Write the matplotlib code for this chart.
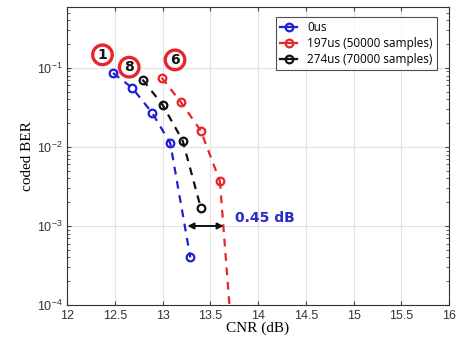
import matplotlib

matplotlib.use("Agg")
import matplotlib.pyplot as plt
from matplotlib.ticker import LogLocator, NullFormatter

# ---- data ----
blue_x = [12.48, 12.68, 12.89, 13.08, 13.29]
blue_y = [0.086, 0.056, 0.027, 0.0112, 0.0004]

red_x = [12.99, 13.19, 13.40, 13.60]
red_y = [0.075, 0.037, 0.016, 0.0037]
red_tail_x = [13.60, 13.70]
red_tail_y = [0.0037, 1e-4]

black_x = [12.79, 13.00, 13.21, 13.40]
black_y = [0.071, 0.034, 0.012, 0.0017]

labels = ["0us", "197us (50000 samples)", "274us (70000 samples)"]

circle_text = ["1", "8", "6"]
circle_x = [12.37, 12.65, 13.13]
circle_y = [0.146, 0.102, 0.126]

gap_x = [13.26, 13.64]
gap_y = 1e-3
gap_label = "0.45 dB"

xticks = [12, 12.5, 13, 13.5, 14, 14.5, 15, 15.5, 16]
xticklabels = ["12", "12.5", "13", "13.5", "14", "14.5", "15", "15.5", "16"]

BLUE = "#1f1fd6"
RED = "#e8262a"
BLACK = "#111111"

fig = plt.figure(figsize=(4.6, 3.49), dpi=100)
ax = fig.add_axes([0.146, 0.126, 0.830, 0.854])

mk = dict(marker="o", markersize=5.5, markerfacecolor="none", markeredgewidth=1.6,
          linestyle="--", linewidth=1.6, dashes=(3.5, 3))
ax.plot(blue_x, blue_y, color=BLUE, label=labels[0], **mk)
ax.plot(red_x, red_y, color=RED, label=labels[1], **mk)
ax.plot(black_x, black_y, color=BLACK, label=labels[2], **mk)
ax.plot(red_tail_x, red_tail_y, color=RED, linestyle="--", linewidth=1.6, dashes=(3.5, 3))

ax.set_yscale("log")
ax.set_xlim(12, 16)
ax.set_ylim(1e-4, 10 ** -0.23)
ax.set_xticks(xticks)
ax.set_xticklabels(xticklabels)
ax.yaxis.set_major_locator(LogLocator(base=10, numticks=10))
ax.yaxis.set_minor_locator(LogLocator(base=10, subs=range(2, 10), numticks=10))
ax.yaxis.set_minor_formatter(NullFormatter())

ax.grid(True, which="major", color="#e2e2e2", linewidth=0.8)
ax.set_axisbelow(True)
ax.tick_params(direction="in", which="both", top=True, right=True,
               labelsize=9, labelcolor="#333333", color="#444444")
ax.tick_params(which="major", length=3)
ax.tick_params(which="minor", length=2)
for t in ax.get_xticklabels() + ax.get_yticklabels():
    t.set_family("Liberation Sans")
for s in ax.spines.values():
    s.set_color("#333333")
    s.set_linewidth(0.8)

ax.set_xlabel("CNR (dB)", family="Liberation Serif", fontsize=11, labelpad=0)
ax.set_ylabel("coded BER", family="Liberation Serif", fontsize=11, labelpad=2)

leg = ax.legend(loc="upper right", bbox_to_anchor=(0.969, 0.966),
                frameon=True, fancybox=False, handlelength=1.4, handletextpad=0.9,
                borderpad=0.35, labelspacing=0.25, borderaxespad=0,
                prop={"family": "Open Sans", "size": 8.5})
leg.get_frame().set_edgecolor("#222222")
leg.get_frame().set_linewidth(0.8)
for h in leg.get_lines():
    h.set_linestyle("-")

for txt, cx, cy in zip(circle_text, circle_x, circle_y):
    ax.text(cx, cy, txt, ha="center", va="center", fontsize=10, fontweight="bold",
            family="DejaVu Sans", color="#111111",
            bbox=dict(boxstyle="circle,pad=0.2", facecolor="white",
                      edgecolor=RED, linewidth=2.4))

ax.annotate("", xy=(gap_x[0], gap_y), xytext=(gap_x[1], gap_y),
            arrowprops=dict(arrowstyle="<|-|>", color=BLACK, lw=1.4,
                            mutation_scale=9, shrinkA=0, shrinkB=0))
ax.text(gap_x[1] + 0.12, gap_y * 1.25, gap_label, ha="left", va="center",
        fontsize=10, fontweight="bold", color="#2a2acc", family="DejaVu Sans")

fig.savefig("out.png", dpi=100)
